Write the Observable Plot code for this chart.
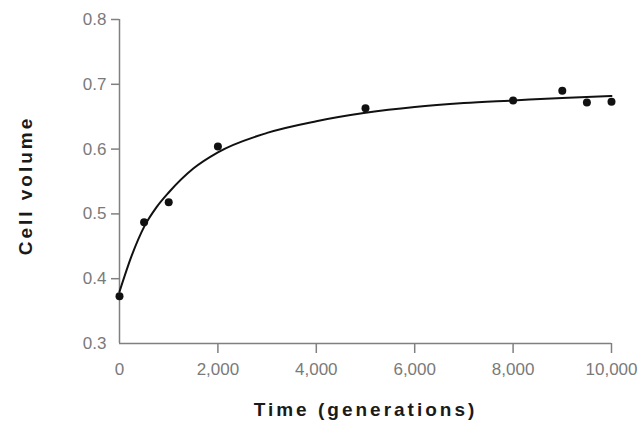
<!DOCTYPE html>
<html>
<head>
<meta charset="utf-8">
<script src="https://cdn.jsdelivr.net/npm/d3@7"></script>
<script src="https://cdn.jsdelivr.net/npm/@observablehq/plot@0.6"></script>
<style>
  html, body { margin: 0; padding: 0; background: white; }
  #chart svg { display: block; }
</style>
</head>
<body>
<div id="chart"></div>
<script>
// Observed data points
const times = [0, 500, 1000, 2000, 5000, 8000, 9000, 9500, 10000];
const volumes = [0.373, 0.487, 0.518, 0.604, 0.663, 0.675, 0.690, 0.672, 0.673];

// Fitted curve
const curveTimes = [0, 250, 500, 750, 1000, 1500, 2000, 3000, 4000, 5000, 6000, 7000, 8000, 9000, 10000];
const curveVolumes = [0.380, 0.436, 0.480, 0.510, 0.533, 0.570, 0.595, 0.625, 0.643, 0.656, 0.665, 0.671, 0.675, 0.679, 0.682];

// Tick labels
const xTicks = [0, 2000, 4000, 6000, 8000, 10000];
const yTicks = [0.3, 0.4, 0.5, 0.6, 0.7, 0.8];

const xTitle = "Time (generations)";
const yTitle = "Cell volume";

const points = times.map((t, i) => ({t, v: volumes[i]}));
const curve = curveTimes.map((t, i) => ({t, v: curveVolumes[i]}));

const axisColor = "#808080";
const commaFmt = d3.format(",");

const chart = Plot.plot({
  width: 638,
  height: 430,
  marginLeft: 119,
  marginRight: 27,
  marginTop: 19,
  marginBottom: 87,
  x: {domain: [0, 10000]},
  y: {domain: [0.3, 0.8]},
  style: {fontFamily: "'Liberation Sans', Arial, sans-serif", fontSize: "17px", color: "#7a7a7a", background: "white"},
  marks: [
    // tick marks (no tick at the origin)
    Plot.axisX(xTicks.slice(1), {tickSize: 10, tickFormat: () => "", stroke: axisColor, strokeWidth: 1.5, label: null}),
    Plot.axisY(yTicks.slice(1), {tickSize: 8, tickFormat: () => "", stroke: axisColor, strokeWidth: 1.5, label: null}),
    // tick labels
    Plot.axisX(xTicks, {tickSize: 0, tickPadding: 19, tickFormat: d => commaFmt(d), fill: "#7a7a7a", label: null}),
    Plot.axisY(yTicks, {tickSize: 0, tickPadding: 13, tickFormat: d => d.toFixed(1), fill: "#7a7a7a", label: null}),
    // axis lines
    Plot.ruleX([0], {y1: 0.3, y2: 0.8, stroke: axisColor, strokeWidth: 1.5}),
    Plot.ruleY([0.3], {x1: 0, x2: 10000, stroke: axisColor, strokeWidth: 1.5}),
    // fitted curve
    Plot.line(curve, {x: "t", y: "v", curve: "monotone-x", stroke: "#111", strokeWidth: 2}),
    // observations
    Plot.dot(points, {x: "t", y: "v", r: 4, fill: "#111", stroke: "none"}),
    // axis titles
    Plot.text([xTitle], {frameAnchor: "bottom", dy: 72, textAnchor: "middle", text: d => d, fill: "#1a1a1a", fontWeight: "bold", fontSize: 19}),
    Plot.text([yTitle], {frameAnchor: "left", dx: -94, dy: 4, rotate: -90, textAnchor: "middle", lineAnchor: "middle", text: d => d, fill: "#1a1a1a", fontWeight: "bold", fontSize: 19})
  ]
});

// letter spacing for axis titles
chart.querySelectorAll("text").forEach(t => {
  if (t.textContent === xTitle || t.textContent === yTitle) t.setAttribute("letter-spacing", "3");
});

document.getElementById("chart").appendChild(chart);
</script>
</body>
</html>
